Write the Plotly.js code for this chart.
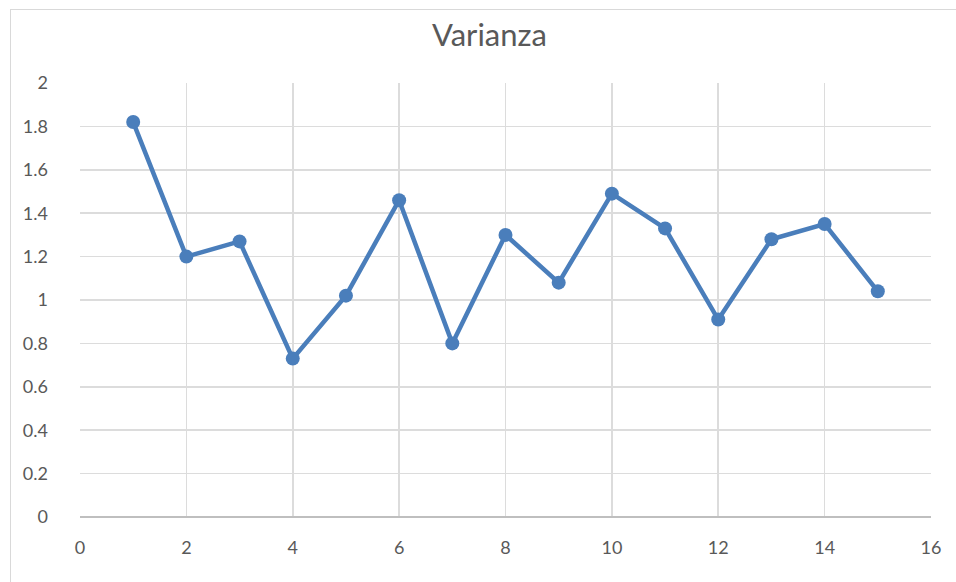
<!DOCTYPE html>
<html>
<head>
<meta charset="utf-8">
<script src="https://cdn.plot.ly/plotly-3.0.1.min.js"></script>
<style>
html,body{margin:0;padding:0;background:#fff;overflow:hidden;}
#chart{position:absolute;left:0;top:0;width:956px;height:582px;}
#frame{position:absolute;left:10px;top:9px;width:960px;height:600px;border:1px solid #d9d9d9;pointer-events:none;}
</style>
</head>
<body>
<div id="chart"></div>
<div id="frame"></div>
<script>
var xValues = [1, 2, 3, 4, 5, 6, 7, 8, 9, 10, 11, 12, 13, 14, 15];
var varianza = [1.82, 1.20, 1.27, 0.73, 1.02, 1.46, 0.80, 1.30, 1.08, 1.49, 1.33, 0.91, 1.28, 1.35, 1.04];
var chartTitle = "Varianza";

var trace = {
  x: xValues,
  y: varianza,
  type: "scatter",
  mode: "lines+markers",
  line: {color: "#4a7ebb", width: 4.5},
  marker: {color: "#4a7ebb", size: 14},
  hoverinfo: "x+y"
};

var fontFam = "Lato, 'Open Sans', sans-serif";
var layout = {
  width: 956, height: 582,
  margin: {l: 80, r: 25, t: 83, b: 65},
  paper_bgcolor: "rgba(0,0,0,0)",
  plot_bgcolor: "#fff",
  showlegend: false,
  title: {text: chartTitle, x: 0.512, xanchor: "center", y: 0.94, yanchor: "middle",
          font: {family: fontFam, size: 31, color: "#595959"}},
  xaxis: {
    range: [0, 16], dtick: 2, tick0: 0,
    showgrid: true, gridcolor: "#dcdcdc", gridwidth: 1.6,
    zeroline: false, showline: false,
    ticks: "", ticklabelstandoff: 18,
    tickfont: {family: fontFam, size: 18, color: "#595959"}
  },
  yaxis: {
    range: [0, 2], dtick: 0.2, tick0: 0,
    showgrid: true, gridcolor: "#dcdcdc", gridwidth: 1.6,
    zeroline: true, zerolinecolor: "#bfbfbf", zerolinewidth: 1.6,
    showline: false, ticks: "", ticklabelstandoff: 31,
    tickfont: {family: fontFam, size: 18, color: "#595959"}
  }
};

Plotly.newPlot("chart", [trace], layout, {displayModeBar: false, staticPlot: true});
</script>
</body>
</html>
